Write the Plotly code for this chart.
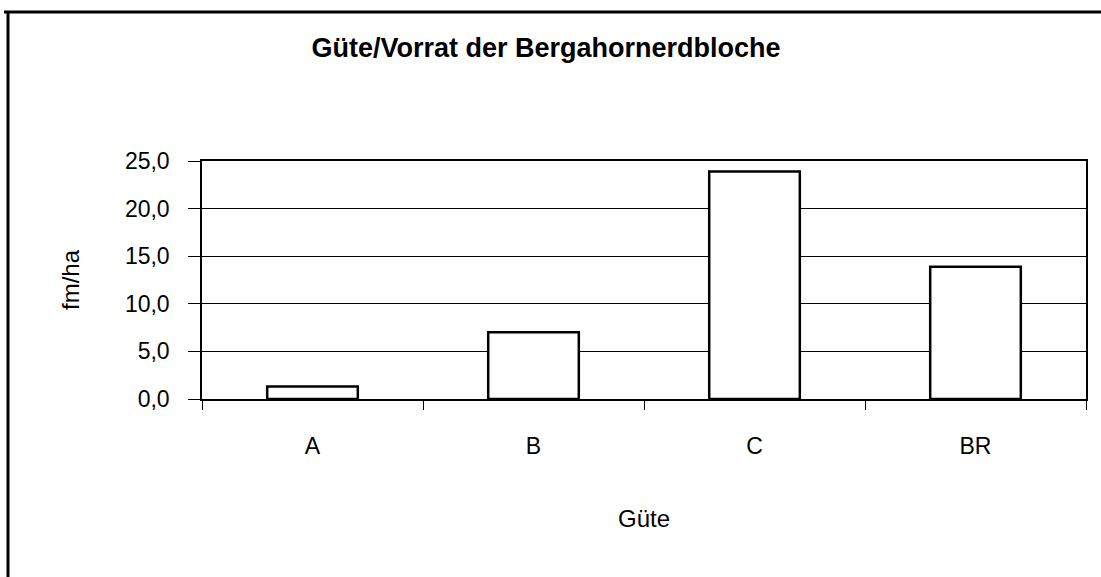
import plotly.graph_objects as go

# Stock of sycamore butt logs by quality class
categories = ["A", "B", "C", "BR"]
volume_fm_ha = [1.3, 7.0, 23.9, 13.9]
y_ticks = [0, 5, 10, 15, 20, 25]

W, H = 1101, 577
L, R, T, B = 202, 15, 161, 178
plot_w = W - L - R
plot_h = H - T - B

def px_to_paper_x(px):
    return (px - L) / plot_w

def px_to_paper_y(py):
    return (H - B - py) / plot_h

font_family = "Liberation Sans, Arial, sans-serif"

fig = go.Figure(
    go.Bar(
        x=categories,
        y=volume_fm_ha,
        marker=dict(color="white", line=dict(color="black", width=2.5)),
        width=0.41,
        hoverinfo="x+y",
    )
)

fig.update_layout(
    width=W,
    height=H,
    margin=dict(l=L, r=R, t=T, b=B),
    paper_bgcolor="white",
    plot_bgcolor="white",
    separators=",.",
    showlegend=False,
    font=dict(family=font_family, size=23, color="black"),
    title=dict(
        text="<b>Güte/Vorrat der Bergahornerdbloche</b>",
        x=px_to_paper_x(546),
        xref="paper",
        xanchor="center",
        y=1 - 48 / H,
        yref="container",
        yanchor="middle",
        font=dict(family=font_family, size=27, color="black"),
    ),
    xaxis=dict(
        title=dict(text="Güte", standoff=52, font=dict(size=24)),
        showline=True,
        linecolor="black",
        linewidth=1.5,
        mirror=True,
        ticks="outside",
        tickson="boundaries",
        ticklen=9,
        tickcolor="black",
        tickwidth=1.2,
        showgrid=False,
        ticklabelstandoff=26,
        tickfont=dict(size=23),
    ),
    yaxis=dict(
        title=dict(text="fm/ha", standoff=38, font=dict(size=24)),
        range=[0, 25],
        tickvals=y_ticks,
        tickformat=".1f",
        showline=True,
        linecolor="black",
        linewidth=1.5,
        mirror=True,
        ticks="outside",
        ticklen=12,
        tickcolor="black",
        tickwidth=1.2,
        showgrid=True,
        gridcolor="black",
        gridwidth=1.3,
        zeroline=False,
        ticklabelstandoff=14,
        tickfont=dict(size=23),
    ),
    shapes=[
        # outer frame: top and left edges
        dict(type="line", xref="paper", yref="paper",
             x0=px_to_paper_x(4), x1=px_to_paper_x(W + 5),
             y0=px_to_paper_y(12), y1=px_to_paper_y(12),
             line=dict(color="black", width=3)),
        dict(type="line", xref="paper", yref="paper",
             x0=px_to_paper_x(8), x1=px_to_paper_x(8),
             y0=px_to_paper_y(11), y1=px_to_paper_y(H + 5),
             line=dict(color="black", width=3)),
    ],
)

fig.write_html("out.html")
